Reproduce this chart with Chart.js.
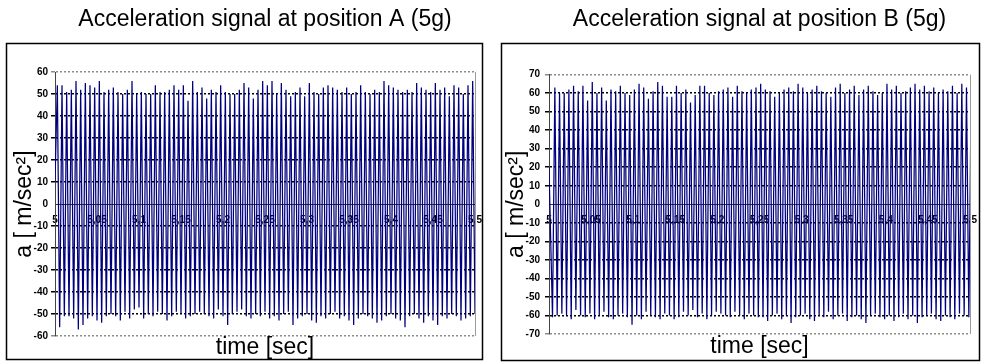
<!DOCTYPE html>
<html>
<head>
<meta charset="utf-8">
<script src="https://cdn.jsdelivr.net/npm/chart.js@4.4.1/dist/chart.umd.min.js"></script>
<style>
  html, body { margin: 0; padding: 0; background: #fff; }
  #wrap { position: relative; width: 981px; height: 362px; }
  canvas { position: absolute; top: 0; }
  #chartA { left: 0; }
  #chartB { left: 490px; }
</style>
</head>
<body>
<div id="wrap">
  <canvas id="chartA" width="490" height="362"></canvas>
  <canvas id="chartB" width="491" height="362"></canvas>
</div>
<script>
// tick labels (comma decimals as in the original)
const xTickLabels = ["5", "5,05", "5,1", "5,15", "5,2", "5,25", "5,3", "5,35", "5,4", "5,45", "5,5"]

// half period between a peak and the next trough, sec
const HALF = 0.5 / 180

// position A: peak and trough values, m/sec^2
const startA = 10
const peaksA = [
  54, 54, 51, 52, 56, 52, 55, 54, 53, 56, 51, 52, 53, 51, 50, 52, 56, 50, 51, 50, 50, 54, 51,
  51, 52, 54, 52, 54, 47, 56, 51, 53, 48, 52, 51, 54, 51, 50, 50, 52, 55, 53, 48, 52, 56,
  54, 56, 50, 55, 52, 49, 51, 53, 49, 55, 51, 50, 53, 54, 53, 52, 51, 53, 50, 51, 54, 51,
  50, 52, 51, 56, 54, 53, 52, 51, 52, 51, 55, 53, 52, 51, 55, 52, 53, 49, 54, 53, 50, 54, 56
]
const troughsA = [
  -56, -51, -51, -52, -57, -55, -52, -51, -53, -54, -51, -50, -51, -53, -49, -52, -48, -47, -52, -50, -51, -49, -50,
  -53, -51, -49, -50, -52, -51, -50, -49, -50, -51, -52, -48, -51, -55, -50, -49, -48, -51, -52, -50, -51, -49,
  -52, -51, -53, -50, -49, -55, -52, -51, -50, -53, -54, -51, -52, -50, -49, -52, -51, -53, -55, -52, -50, -51,
  -52, -54, -53, -51, -50, -52, -53, -56, -51, -50, -52, -54, -51, -53, -55, -51, -52, -50, -51, -53, -52, -51, -50
]

// position B
const startB = 20
const peaksB = [
  63, 60, 60, 62, 64, 61, 64, 56, 66, 60, 63, 56, 62, 61, 64, 60, 59, 62, 65, 63, 57, 61, 66,
  64, 58, 58, 64, 60, 62, 55, 59, 64, 64, 60, 59, 61, 62, 63, 58, 64, 61, 60, 62, 63, 65,
  62, 61, 58, 60, 62, 63, 61, 65, 63, 60, 62, 64, 61, 60, 58, 63, 65, 60, 62, 64, 59, 62,
  64, 61, 59, 60, 65, 62, 64, 60, 61, 63, 65, 62, 64, 61, 63, 60, 62, 61, 64, 60, 65, 63, 61
]
const troughsB = [
  -61, -60, -59, -60, -62, -57, -60, -61, -59, -62, -60, -58, -61, -62, -60, -59, -61, -65, -60, -62, -58, -60, -61,
  -62, -59, -60, -62, -61, -58, -60, -57, -61, -59, -62, -60, -58, -59, -60, -61, -58, -60, -62, -59, -60, -61,
  -61, -63, -60, -59, -62, -60, -64, -61, -60, -59, -62, -63, -60, -61, -58, -62, -60, -59, -63, -61, -60, -62,
  -64, -60, -59, -61, -62, -60, -63, -61, -59, -62, -60, -64, -61, -60, -59, -62, -63, -60, -61, -62, -59, -60, -61
]

Chart.defaults.font.family = "'Liberation Sans', Arial, Helvetica, sans-serif"
Chart.defaults.color = "#000"

// alternating extremes, one every half period
function zigzag(start, first, second, phase) {
  const pts = [{ x: 5, y: start }]
  first.forEach((v, i) => {
    pts.push({ x: 5 + HALF * (2 * i + phase), y: v })
    pts.push({ x: 5 + HALF * (2 * i + phase + 1), y: second[i] })
  })
  return pts
}

const framePlugin = {
  id: "frame",
  afterDraw(chart, args, opts) {
    const { ctx, chartArea: a } = chart
    ctx.save()
    ctx.strokeStyle = "#000"
    ctx.lineWidth = 1.5
    ctx.strokeRect(opts.left, opts.top, opts.right - opts.left, opts.bottom - opts.top)
    ctx.strokeStyle = "#9a9a9a"
    ctx.lineWidth = 1
    ctx.beginPath()
    ctx.moveTo(Math.round(a.right) + 0.5, a.top)
    ctx.lineTo(Math.round(a.right) + 0.5, a.bottom)
    ctx.stroke()
    ctx.restore()
  }
}

function makeChart(id, o) {
  return new Chart(document.getElementById(id), {
    type: "line",
    data: {
      datasets: [{
        data: o.points,
        borderColor: "#00007f",
        borderWidth: 1.25,
        pointRadius: 0,
        tension: 0,
        fill: false
      }]
    },
    plugins: [framePlugin],
    options: {
      responsive: false,
      animation: false,
      devicePixelRatio: 1,
      events: [],
      layout: { padding: { left: 0, right: o.padRight, top: 0, bottom: 0 } },
      plugins: {
        legend: { display: false },
        tooltip: { enabled: false },
        frame: o.frame,
        title: {
          display: true,
          fullSize: false,
          text: o.title,
          font: { size: 23, weight: "normal" },
          padding: { top: 6, bottom: o.titleGap }
        },
        subtitle: {
          display: true,
          position: "bottom",
          fullSize: false,
          text: "time [sec]",
          font: { size: 23, weight: "normal", lineHeight: 1 },
          padding: { top: o.subTop, bottom: o.subBottom }
        }
      },
      scales: {
        x: {
          type: "linear",
          min: 5,
          max: 5.5,
          position: { y: 0 },
          z: 1,
          grid: { drawOnChartArea: false, drawTicks: false },
          border: { display: true, color: "#333", width: 1 },
          ticks: {
            stepSize: 0.05,
            autoSkip: false,
            maxRotation: 0,
            padding: 10,
            font: { size: 10, weight: "bold" },
            callback: (v, i) => xTickLabels[i]
          },
          afterFit: (s) => { s.height = 0; s.paddingLeft = 0; s.paddingRight = 0 }
        },
        y: {
          min: -o.yMax,
          max: o.yMax,
          z: 1,
          afterFit: (s) => { s.width = o.yWidth },
          ticks: {
            stepSize: 10,
            padding: o.tickPad,
            font: { size: 10, weight: "bold" }
          },
          grid: {
            lineWidth: 1.5,
            tickLength: 4,
            color: (c) => c.tick.value === 0 ? "rgba(0,0,0,0)" : (Math.abs(c.tick.value) === o.yMax ? "#8c8c8c" : "#000")
          },
          border: { display: true, color: "#444", width: 1, dash: [2, 2] },
          title: {
            display: true,
            text: "a [ m/sec²]",
            font: { size: 23 },
            padding: { top: o.yTitlePad, bottom: 0 }
          }
        }
      }
    }
  })
}

makeChart("chartA", {
  title: "Acceleration signal at position A (5g)",
  points: zigzag(startA, peaksA, troughsA, 1),
  yMax: 60,
  yWidth: 55,
  tickPad: 3,
  yTitlePad: 11,
  padRight: 15,
  titleGap: 38.5,
  subTop: 0,
  subBottom: 3,
  frame: { left: 6.5, top: 43.5, right: 482.5, bottom: 359.5 }
})

makeChart("chartB", {
  title: "Acceleration signal at position B (5g)",
  points: zigzag(startB, troughsB, peaksB, 1.5),
  yMax: 70,
  yWidth: 59,
  tickPad: 5,
  yTitlePad: 13,
  padRight: 11,
  titleGap: 41,
  subTop: 1.5,
  subBottom: 3.5,
  frame: { left: 11.5, top: 43.5, right: 489.5, bottom: 360.5 }
})
</script>
</body>
</html>
